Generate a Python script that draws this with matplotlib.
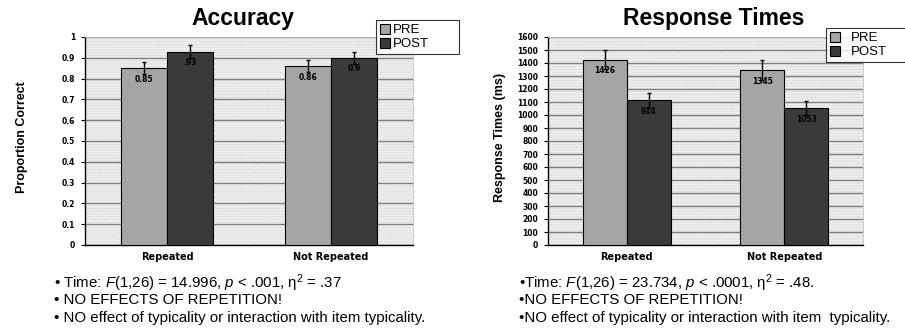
import matplotlib
matplotlib.use("Agg")
import matplotlib.pyplot as plt
import numpy as np
from matplotlib.patches import Patch

plt.rcParams['font.family'] = ['Liberation Sans', 'DejaVu Sans']
plt.rcParams['mathtext.fontset'] = 'custom'
plt.rcParams['mathtext.rm'] = 'Liberation Sans'
plt.rcParams['mathtext.it'] = 'Liberation Sans:italic'
plt.rcParams['hatch.linewidth'] = 0.6

categories = ["Repeated", "Not Repeated"]
series = ["PRE", "POST"]

acc_pre = [0.85, 0.86]
acc_post = [0.93, 0.90]
acc_pre_err = [0.03, 0.03]
acc_post_err = [0.033, 0.03]
acc_pre_labels = ["0.85", "0.86"]
acc_post_labels = [".93", "0.9"]

rt_pre = [1426, 1345]
rt_post = [1112, 1052]
rt_pre_err = [75, 75]
rt_post_err = [55, 55]
rt_pre_labels = ["1426", "1345"]
rt_post_labels = ["914", "1053"]

acc_ticks = [0, 0.1, 0.2, 0.3, 0.4, 0.5, 0.6, 0.7, 0.8, 0.9, 1]
acc_ticklabels = ["0", "0.1", "0.2", "0.3", "0.4", "0.5", "0.6", "0.7", "0.8", "0.9", "1"]
rt_ticks = list(range(0, 1601, 100))

left_notes = [
    r"• Time: $\mathit{F}$(1,26) = 14.996, $\mathit{p}$ < .001, η$^2$ = .37",
    "• NO EFFECTS OF REPETITION!",
    "• NO effect of typicality or interaction with item typicality.",
]
right_notes = [
    r"•Time: $\mathit{F}$(1,26) = 23.734, $\mathit{p}$ < .0001, η$^2$ = .48.",
    "•NO EFFECTS OF REPETITION!",
    "•NO effect of typicality or interaction with item  typicality.",
]

PRE_C = "#a5a5a5"
POST_C = "#3a3a3a"
WIDE = ['DejaVu Sans']

W, H = 905, 328
fig = plt.figure(figsize=(W / 100, H / 100), dpi=100)


def fx(px):
    return px / W


def fy(py):
    return 1 - py / H


def draw(ax, pre, post, pre_err, post_err, pre_lab, post_lab, ymax, ticks, ticklabels,
         ylabel, ylabel_x, title, title_x, legend_box, text_pad):
    ax.set_facecolor("#efefef")
    ax.patch.set_hatch("......")
    ax.patch.set_edgecolor("#d2d2d2")
    x = np.arange(len(categories))
    w = 0.28
    ax.bar(x - w / 2, pre, w, color=PRE_C, edgecolor="black", linewidth=0.8, zorder=3)
    ax.bar(x + w / 2, post, w, color=POST_C, edgecolor="black", linewidth=0.8, zorder=3)
    ax.errorbar(x - w / 2, pre, yerr=pre_err, fmt="none", ecolor="black", elinewidth=1.0,
                capsize=1.5, capthick=1.0, zorder=4)
    ax.errorbar(x + w / 2, post, yerr=post_err, fmt="none", ecolor="black", elinewidth=1.0,
                capsize=1.5, capthick=1.0, zorder=4)
    for xi, v, lab in zip(x - w / 2, pre, pre_lab):
        ax.annotate(lab, (xi, v), xytext=(0, -8), textcoords="offset points", ha="center",
                    va="center", fontsize=5.5, fontweight="bold", family=WIDE, zorder=5)
    for xi, v, lab in zip(x + w / 2, post, post_lab):
        ax.annotate(lab, (xi, v), xytext=(0, -8), textcoords="offset points", ha="center",
                    va="center", fontsize=5.5, fontweight="bold", family=WIDE, zorder=5)
    ax.set_xlim(-0.5, len(categories) - 0.5)
    ax.set_ylim(0, ymax)
    ax.set_yticks(ticks)
    ax.set_yticklabels(ticklabels, fontsize=5.5, fontweight="bold", family=WIDE)
    ax.set_xticks(x)
    ax.set_xticklabels(categories, fontsize=7, fontweight="bold", family=WIDE)
    ax.tick_params(axis="x", length=0, pad=5)
    ax.tick_params(axis="y", length=3, width=0.8, pad=4)
    ax.yaxis.grid(True, color="#808080", linewidth=1.0, zorder=1)
    ax.set_axisbelow(True)
    for s in ["left", "bottom"]:
        ax.spines[s].set_color("black")
        ax.spines[s].set_linewidth(1.0)
    for s in ["top", "right"]:
        ax.spines[s].set_color("#c0c0c0")
        ax.spines[s].set_linewidth(0.6)
    fig.text(ylabel_x, fy(137), ylabel, rotation=90, ha="center", va="center", fontsize=9,
             fontweight="bold")
    fig.text(title_x, fy(25), title, ha="center", va="baseline", fontsize=16.5,
             fontweight="bold")
    handles = [Patch(facecolor=PRE_C, edgecolor="black", linewidth=0.8),
               Patch(facecolor=POST_C, edgecolor="black", linewidth=0.8)]
    x0, y0, x1, y1 = legend_box
    leg = fig.legend(handles, series, loc="upper left",
                     bbox_to_anchor=(fx(x0), fy(y1), (x1 - x0) / W, (y1 - y0) / H),
                     mode="expand", fontsize=9.5, frameon=True, fancybox=False,
                     edgecolor="black", handlelength=0.75, handleheight=0.75,
                     handletextpad=text_pad, borderpad=0.3, labelspacing=0.12,
                     borderaxespad=0)
    leg.get_frame().set_linewidth(0.8)
    leg.set_zorder(10)


ax1 = fig.add_axes([fx(85), fy(245), 328 / W, 208 / H])
draw(ax1, acc_pre, acc_post, acc_pre_err, acc_post_err, acc_pre_labels, acc_post_labels,
     1, acc_ticks, acc_ticklabels, "Proportion Correct", fx(22), "Accuracy", fx(243),
     (376, 20, 459, 54), 0.2)

ax2 = fig.add_axes([fx(548), fy(245), 315 / W, 208 / H])
draw(ax2, rt_pre, rt_post, rt_pre_err, rt_post_err, rt_pre_labels, rt_post_labels,
     1600, rt_ticks, [str(t) for t in rt_ticks], "Response Times (ms)", fx(500),
     "Response Times", fx(714), (826, 28, 906, 63), 0.8)

for i, line in enumerate(left_notes):
    fig.text(fx(54), fy(283 + 17.5 * i), line, ha="left", va="center", fontsize=10.8)
for i, line in enumerate(right_notes):
    fig.text(fx(519), fy(283 + 17.5 * i), line, ha="left", va="center", fontsize=10.8)

fig.savefig("out.png", dpi=100)
